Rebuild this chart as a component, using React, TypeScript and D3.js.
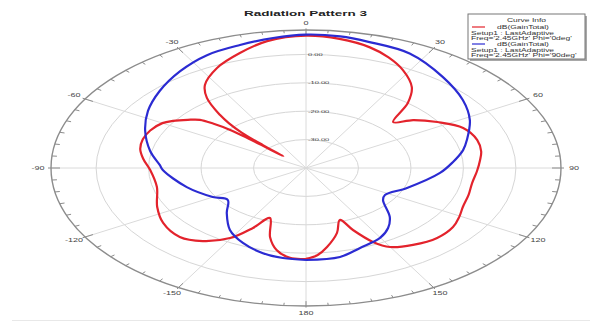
import React from "react";
import * as d3 from "d3";

// Canvas and polar frame (the plot is an ellipse: vertical axis compressed)
const W = 590;
const H = 322;
const CX = 306;
const CY = 168;
const RX = 255;
const KY = 138 / 255;

// Radial scale (dB)
const R_MIN = -40;
const R_MAX = 8.6;
const RING_VALUES = [0, -10, -20, -30];
const RING_LABELS = ["0.00", "-10.00", "-20.00", "-30.00"];

// Angular axis
const ANGLE_LABELS = [0, 30, 60, 90, 120, 150, 180, -150, -120, -90, -60, -30];

// dB(GainTotal), Phi = 0deg
const PHI0_THETA = [
  -180, -174.5, -169, -164.3, -158.7, -154.4, -149.6, -142.6, -135.3, -125.4,
  -115.8, -103.3, -91.4, -84, -78, -72, -66, -60, -56.8, -53, -50, -48.5,
  -47.2, -46.6, -46.1, -45.5, -44.5, -43, -41.3, -37.4, -33.4, -25.7, -17.3,
  -9.4, 0, 8, 16, 22, 28.2, 35.3, 40.3, 45.7, 50.4, 57.1, 64.8, 73.2, 80,
  85.1, 92, 99.5, 107, 114.7, 120.5, 126.6, 134.6, 143, 150.1, 153.9, 157.7,
  160.6, 165.5, 171.8, 176, 180,
];
const PHI0_GAIN = [
  -8.0, -8.2, -10.6, -14.7, -21.1, -16.6, -11.4, -7.6, -5.8, -6.6,
  -8.5, -10.8, -10.3, -8.8, -7.7, -7.3, -7.5, -8.4, -9.7, -11.8, -13.6, -16.5,
  -20, -25, -34, -28.5, -22.5, -18.5, -15.2, -8.9, -5.0, -0.9, 2.4,
  5.3, 6.6, 5.9, 4.2, 2.0, -0.9, -5.1, -10, -16.8, -13.5, -10.2, -6.9, -5.9, -6.1,
  -6.7, -7.4, -7.9, -7.6, -7.1, -6.1, -5.1, -4.9, -6.1, -7.9, -11, -16.4,
  -20.6, -16.4, -11.9, -9.2, -8.0,
];

// dB(GainTotal), Phi = 90deg
const PHI90_THETA = [
  -180, -172.1, -164.7, -155.5, -146.4, -136.4, -127.2, -119.9, -106.5, -91.5,
  -87.8, -78.6, -67, -56.3, -45.8, -35.1, -25.4, -16.2, -7.8, 0, 8, 15, 26.1,
  39.2, 51.3, 61.6, 72.2, 78.1, 86, 93.9, 110.1, 122.3, 127.5, 137.2, 143.5,
  150.2, 159.9, 168.3, 180,
];
const PHI90_GAIN = [
  -7.6, -8.0, -8.9, -11.0, -13.8, -18.1, -21.3, -19.5, -16.3, -12.7,
  -12.1, -9.7, -6.7, -3.8, -1.1, 1.7, 4.0, 5.1, 6.2, 7.0, 6.8, 6.0, 4.9,
  1.3, -1.7, -4.5, -7.8, -9.4, -12.0, -14.4, -19.5, -22.2, -21.5, -16.5, -13.7,
  -11.6, -10.0, -8.0, -7.6,
];

const TRACE_COLORS = ["#e3232c", "#2b2bd2"];
const LEGEND_TITLE = "Curve Info";
const LEGEND_EXPR = ["dB(GainTotal)", "dB(GainTotal)"];
const LEGEND_SETUP = ["Setup1 : LastAdaptive", "Setup1 : LastAdaptive"];
const LEGEND_SWEEP = ["Freq='2.45GHz' Phi='0deg'", "Freq='2.45GHz' Phi='90deg'"];

const FONT = "'Liberation Sans', Arial, sans-serif";

const r = d3.scaleLinear().domain([R_MIN, R_MAX]).range([0, RX]);
const px = (deg: number, rad: number) => CX + rad * Math.sin((deg * Math.PI) / 180);
const py = (deg: number, rad: number) => CY - rad * KY * Math.cos((deg * Math.PI) / 180);

type Pt = [number, number];
const line = d3
  .line<Pt>()
  .x((d) => px(d[0], r(d[1])))
  .y((d) => py(d[0], r(d[1])))
  .curve(d3.curveCatmullRom.alpha(0.5));

// squashed text placed at screen coordinates
function SText(props: {
  x: number;
  y: number;
  size: number;
  anchor?: string;
  weight?: string | number;
  fill?: string;
  children: React.ReactNode;
}) {
  const { x, y, size, anchor = "middle", weight = "normal", fill = "#333", children } = props;
  return (
    <text
      transform={`translate(${x},${y}) scale(1,${KY})`}
      fontFamily={FONT}
      fontSize={size}
      fontWeight={weight}
      textAnchor={anchor}
      dominantBaseline="central"
      fill={fill}
    >
      {children}
    </text>
  );
}

export default function App() {
  const traces: Pt[][] = [
    PHI0_THETA.map((t, i) => [t, PHI0_GAIN[i]] as Pt),
    PHI90_THETA.map((t, i) => [t, PHI90_GAIN[i]] as Pt),
  ];
  const spokes = d3.range(0, 360, 30);
  const ticks = d3.range(0, 360, 5);

  // legend geometry
  const lx = 468;
  const ly = 14;
  const lw = 117;
  const lh = 45;
  const rowY = [27, 33, 38.5, 44, 50, 55.5];

  return (
    <svg
      width={W}
      height={H}
      viewBox={`0 0 ${W} ${H}`}
      style={{ position: "absolute", left: 0, top: 0, background: "#fff" }}
    >
      <rect x={0} y={0} width={W} height={H} fill="#fff" />

      {/* rings */}
      {RING_VALUES.map((v) => (
        <ellipse
          key={`ring${v}`}
          cx={CX}
          cy={CY}
          rx={r(v)}
          ry={r(v) * KY}
          fill="none"
          stroke="#d6d6d6"
          strokeWidth={1}
        />
      ))}

      {/* spokes */}
      {spokes.map((a) => (
        <line
          key={`sp${a}`}
          x1={CX}
          y1={CY}
          x2={px(a, RX)}
          y2={py(a, RX)}
          stroke="#dadada"
          strokeWidth={1}
        />
      ))}

      {/* outer boundary with ticks */}
      <ellipse cx={CX} cy={CY} rx={RX} ry={RX * KY} fill="none" stroke="#8c8c8c" strokeWidth={1.4} />
      {ticks.map((a) => {
        const major = a % 30 === 0;
        const r0 = major ? RX - 9 : RX - 5;
        const r1 = major ? RX + 3 : RX;
        return (
          <line
            key={`tk${a}`}
            x1={px(a, r0)}
            y1={py(a, r0)}
            x2={px(a, r1)}
            y2={py(a, r1)}
            stroke="#8c8c8c"
            strokeWidth={1}
          />
        );
      })}

      {/* angle labels */}
      {ANGLE_LABELS.map((a) => (
        <SText key={`al${a}`} x={px(a, RX + 13)} y={py(a, RX + 13)} size={9} fill="#444">
          {a}
        </SText>
      ))}

      {/* ring labels */}
      {RING_VALUES.map((v, i) => (
        <SText key={`rl${v}`} x={CX + 2} y={py(0, r(v))} size={7.5} anchor="start" fill="#444">
          {RING_LABELS[i]}
        </SText>
      ))}

      {/* traces */}
      {traces.map((pts, i) => (
        <path
          key={`tr${i}`}
          d={line(pts) || ""}
          fill="none"
          stroke={TRACE_COLORS[i]}
          strokeWidth={2.2}
          strokeLinejoin="round"
        />
      ))}

      {/* title */}
      <SText x={305.5} y={13} size={13.5} weight="bold" fill="#222">
        Radiation Pattern 3
      </SText>

      {/* legend */}
      <rect x={lx + 2} y={ly + 2} width={lw} height={lh} fill="#a8a8a8" />
      <rect x={lx} y={ly} width={lw} height={lh} fill="#fff" stroke="#777" strokeWidth={1} />
      <SText x={lx + lw / 2} y={20} size={8.5}>
        {LEGEND_TITLE}
      </SText>
      {[0, 1].map((i) => (
        <g key={`lg${i}`}>
          <line
            x1={lx + 4}
            x2={lx + 17}
            y1={rowY[i * 3]}
            y2={rowY[i * 3]}
            stroke={TRACE_COLORS[i]}
            strokeWidth={1.2}
          />
          <SText x={lx + 29} y={rowY[i * 3]} size={8.5} anchor="start">
            {LEGEND_EXPR[i]}
          </SText>
          <SText x={lx + 3} y={rowY[i * 3 + 1]} size={8.5} anchor="start">
            {LEGEND_SETUP[i]}
          </SText>
          <SText x={lx + 3} y={rowY[i * 3 + 2]} size={8.5} anchor="start">
            {LEGEND_SWEEP[i]}
          </SText>
        </g>
      ))}

      {/* bottom frame edge */}
      <line x1={12} x2={W} y1={320.5} y2={320.5} stroke="#e8e8e8" strokeWidth={1} />
    </svg>
  );
}
